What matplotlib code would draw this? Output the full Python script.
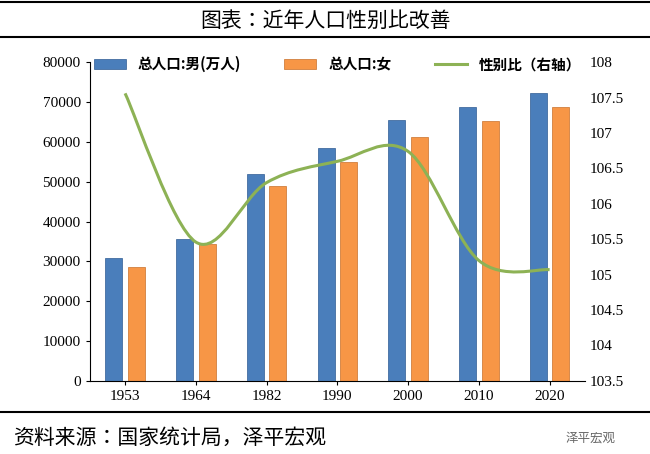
import matplotlib
matplotlib.use("Agg")
import matplotlib.pyplot as plt
from matplotlib.path import Path
from matplotlib.patches import PathPatch
import numpy as np

CJK = ["Noto Sans CJK JP", "Noto Sans CJK SC", "Noto Sans CJK TC", "DejaVu Sans"]
plt.rcParams["font.family"] = CJK

years = ["1953", "1964", "1982", "1990", "2000", "2010", "2020"]
male = [30800, 35600, 51900, 58500, 65400, 68700, 72300]
female = [28600, 34300, 48900, 54900, 61200, 65300, 68800]
ratio = [107.56, 105.46, 106.30, 106.60, 106.74, 105.20, 105.07]

fig = plt.figure(figsize=(6.5, 4.54), dpi=100)
ax = fig.add_axes([0.138, 0.161, 0.762, 0.702])
x = np.arange(len(years))
w = 0.24
ax.bar(x - w/2 - 0.04, male, w, color="#4A7EBB", edgecolor="#2F5C94", linewidth=0.5, label="总人口:男(万人)")
ax.bar(x + w/2 + 0.04, female, w, color="#F79646", edgecolor="#C8702A", linewidth=0.5, label="总人口:女")
ax.set_ylim(0, 80000)
ax.set_yticks(range(0, 80001, 10000))
ax.set_xlim(-0.5, len(years) - 0.5)
ax.set_xticks(x)
ax.set_xticklabels(years)
ax.tick_params(labelsize=11, length=3)
for lab in ax.get_xticklabels() + ax.get_yticklabels():
    lab.set_fontfamily("Liberation Serif")
for s in ["top", "right"]:
    ax.spines[s].set_visible(False)

ax2 = ax.twinx()
ax2.set_ylim(103.5, 108)
ax2.set_yticks(np.arange(103.5, 108.01, 0.5))
ax2.set_yticklabels(["103.5", "104", "104.5", "105", "105.5", "106", "106.5", "107", "107.5", "108"])
for lab in ax2.get_yticklabels():
    lab.set_fontfamily("Liberation Serif")
ax2.tick_params(labelsize=11, length=0)
for s in ["top", "right", "left", "bottom"]:
    ax2.spines[s].set_visible(False)

pts = np.column_stack([x, ratio])
verts = [tuple(pts[0])]
codes = [Path.MOVETO]
n = len(pts)
for i in range(n - 1):
    p0 = pts[max(i - 1, 0)]; p1 = pts[i]; p2 = pts[i + 1]; p3 = pts[min(i + 2, n - 1)]
    c1 = p1 + (p2 - p0) / 6
    c2 = p2 - (p3 - p1) / 6
    verts += [tuple(c1), tuple(c2), tuple(p2)]
    codes += [Path.CURVE4] * 3
ax2.add_patch(PathPatch(Path(verts, codes), fill=False, edgecolor="#8DB255", linewidth=2.2))
ax2.plot([], [], color="#8DB255", linewidth=2.2, label="性别比（右轴）")

h1, l1 = ax.get_legend_handles_labels()
h2, l2 = ax2.get_legend_handles_labels()
ax.legend(h1 + h2, l1 + l2, loc="upper center", bbox_to_anchor=(0.5, 1.06), ncol=3,
          frameon=False, prop={"family": CJK, "size": 10.5, "weight": "bold"},
          columnspacing=3.0, handlelength=2.2)

fig.text(0.5, 0.955, "图表：近年人口性别比改善", ha="center", va="center", fontsize=15,
         fontfamily=CJK)
fig.add_artist(plt.Line2D([0.0, 1.0], [0.995, 0.995], color="black", lw=1.5))
fig.add_artist(plt.Line2D([0.0, 1.0], [0.918, 0.918], color="black", lw=1.5))
fig.add_artist(plt.Line2D([0.0, 1.0], [0.092, 0.092], color="black", lw=1.5))
fig.text(0.02, 0.035, "资料来源：国家统计局，泽平宏观", ha="left", va="center", fontsize=15,
         style="italic", fontfamily=CJK)
fig.text(0.87, 0.035, "泽平宏观", ha="left", va="center", fontsize=9, color="#666666",
         fontfamily=CJK)
fig.savefig("out.png", dpi=100)
